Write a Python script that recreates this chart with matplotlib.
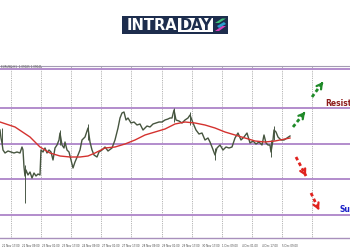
import matplotlib
matplotlib.use("Agg")
import matplotlib.pyplot as plt
from matplotlib.patches import Rectangle, Polygon

# ---- data ----
price_idx = [0,1,2,3,5,8,11,14,17,20,22,23,24,25,26,28,30,32,34,36,38,40,41,43,45,47,49,51,53,55,57,59,60,62,64,65,67,69,71,73,75,78,80,82,85,88,90,92,94,97,99,102,105,108,112,115,118,120,122,124,126,128,131,134,137,140,143,145,147,150,153,156,159,162,165,168,170,172,174,176,179,182,185,188,190,193,196,199,202,205,208,210,212,215,217,220,223,226,229,232,235,238,241,244,247,250,253,256,259,262,264,266,268,270,271,273,274,276,278,281,284,287,290]
price_close = [1.0916,1.0900,1.0890,1.0876,1.0870,1.0874,1.0872,1.0870,1.0872,1.0870,1.0882,1.0876,1.0842,1.0824,1.0836,1.0826,1.0832,1.0820,1.0830,1.0824,1.0828,1.0826,1.0876,1.0872,1.0880,1.0870,1.0876,1.0872,1.0856,1.0880,1.0886,1.0896,1.0910,1.0886,1.0880,1.0892,1.0876,1.0872,1.0856,1.0840,1.0852,1.0866,1.0876,1.0896,1.0902,1.0920,1.0892,1.0876,1.0866,1.0862,1.0872,1.0876,1.0882,1.0874,1.0880,1.0896,1.0920,1.0940,1.0950,1.0952,1.0936,1.0940,1.0930,1.0932,1.0926,1.0928,1.0916,1.0920,1.0924,1.0922,1.0928,1.0930,1.0932,1.0932,1.0936,1.0938,1.0940,1.0940,1.0956,1.0936,1.0934,1.0930,1.0936,1.0940,1.0946,1.0930,1.0916,1.0908,1.0910,1.0896,1.0900,1.0892,1.0882,1.0866,1.0880,1.0886,1.0876,1.0882,1.0880,1.0882,1.0900,1.0910,1.0896,1.0902,1.0910,1.0890,1.0894,1.0888,1.0892,1.0886,1.0906,1.0890,1.0886,1.0886,1.0872,1.0896,1.0916,1.0912,1.0902,1.0896,1.0896,1.0900,1.0904]

wick_idx = [2, 25, 60, 88, 174, 190, 215, 271, 274]
wick_high = [1.0920, 1.0846, 1.0916, 1.0928, 1.0960, 1.0952, 1.0880, 1.0896, 1.0924]
wick_low = [1.0886, 1.0770, 1.0886, 1.0896, 1.0932, 1.0926, 1.0856, 1.0862, 1.0896]

ma_idx = [0,15,30,40,50,60,70,80,88,95,105,115,125,135,145,155,165,175,185,195,205,215,225,235,245,255,265,275,285,290]
ma_val = [1.0932,1.0922,1.0902,1.0882,1.0870,1.0864,1.0862,1.0862,1.0864,1.0870,1.0880,1.0882,1.0888,1.0896,1.0906,1.0912,1.0918,1.0928,1.0932,1.0930,1.0926,1.0920,1.0912,1.0906,1.0900,1.0894,1.0892,1.0894,1.0898,1.0900]

levels = [1.1038, 1.0960, 1.0889, 1.0818, 1.0746]

grid_idx = [11, 41, 71, 101, 131, 162, 192, 222, 252, 282, 312]
tick_idx = [2, 22, 42, 62, 82, 102, 122, 142, 162, 182, 202, 222, 242, 262, 282]
tick_labels = ['21 Nov 17:00','22 Nov 09:00','23 Nov 01:00','23 Nov 17:00','24 Nov 09:00',
               '27 Nov 01:00','27 Nov 17:00','28 Nov 09:00','29 Nov 01:00','29 Nov 17:00',
               '30 Nov 17:00','1 Dec 09:00','4 Dec 01:00','4 Dec 17:00','5 Dec 09:00']

up_arrows = [((293, 1.0922), (305, 1.0952)), ((312, 1.0982), (323, 1.1012))]
down_arrows = [((296, 1.0862), (306, 1.0824)), ((311, 1.0790), (319, 1.0756))]

W, H = 350, 250
fig = plt.figure(figsize=(3.5, 2.5), dpi=100)
fig.patch.set_facecolor('white')

ax = fig.add_axes([0, (H - 238) / H, 1.0, (238 - 66) / H])
ax.set_xlim(0, 350)
ax.set_ylim(1.0700, 1.1044)

for g in grid_idx:
    ax.axvline(g, color='#9a9a9a', lw=0.6, ls=(0, (1, 1.2)), zorder=1)
for lv in levels:
    ax.axhline(lv, color='#b28ccc', lw=1.4, zorder=2)

ax.vlines(wick_idx, wick_low, wick_high, color='#4b5a48', lw=0.7, zorder=3)
ax.plot(price_idx, price_close, color='#46553f', lw=1.0, zorder=4)
ax.plot(ma_idx, ma_val, color='#d4322f', lw=1.0, zorder=5)

def arrow(p0, p1, color):
    ax.plot([p0[0], p1[0]], [p0[1], p1[1]], color=color, lw=2.0, ls=(0, (1.3, 1.0)),
            solid_capstyle='butt', zorder=6)
    ax.annotate('', xy=p1, xytext=(p0[0] + 0.75 * (p1[0] - p0[0]), p0[1] + 0.75 * (p1[1] - p0[1])),
                arrowprops=dict(arrowstyle='->,head_length=0.35,head_width=0.2', color=color, lw=1.6),
                zorder=7)

for a, b in up_arrows:
    arrow(a, b, '#1f8a28')
for a, b in down_arrows:
    arrow(a, b, '#e0231f')

ax.text(325, 1.0970, 'Resistance', color='#8e1c1c', fontsize=5.5, fontweight='bold',
        ha='left', va='center', zorder=8)
ax.text(339, 1.0758, 'Support', color='#1c22c8', fontsize=5.5, fontweight='bold',
        ha='left', va='center', zorder=8)

ax.text(1, 1.1041, 'EURUSD,H1  1.09025 1.09041', fontsize=2.0,
        color='#555555', ha='left', va='center', zorder=8)

for s in ['left', 'right']:
    ax.spines[s].set_visible(False)
ax.spines['top'].set_color('#a49cb4')
ax.spines['top'].set_linewidth(0.8)
ax.spines['bottom'].set_color('#a890bc')
ax.spines['bottom'].set_linewidth(1.0)
ax.set_yticks([])
ax.set_xticks(tick_idx)
ax.set_xticklabels(tick_labels, fontsize=1.9, color='#444444', ha='left')
ax.tick_params(axis='x', length=0, pad=4)

# ---- logo ----
def fx(x):
    return x / W
def fy(y):
    return 1 - y / H

fig.patches.append(Rectangle((fx(122), fy(34)), (228 - 122) / W, (34 - 15.5) / H,
                             transform=fig.transFigure, facecolor='#1d2d4d', edgecolor='none'))
fig.patches.append(Rectangle((fx(178), fy(31.5)), (213 - 178) / W, (31.5 - 18.5) / H,
                             transform=fig.transFigure, facecolor='white', edgecolor='none'))
fig.text(fx(151.5), fy(25), 'INTRA', color='white', fontsize=10.5, fontweight='bold',
         ha='center', va='center')
fig.text(fx(195.5), fy(25), 'DAY', color='#1d2d4d', fontsize=10.5, fontweight='bold',
         ha='center', va='center')
fig.patches.append(Polygon([(fx(215), fy(23)), (fx(222), fy(18.5)), (fx(226), fy(18.5)), (fx(219), fy(23))],
                           closed=True, transform=fig.transFigure, facecolor='#3fc27a', edgecolor='none'))
fig.patches.append(Polygon([(fx(215), fy(31)), (fx(222), fy(26)), (fx(226), fy(26)), (fx(219), fy(31))],
                           closed=True, transform=fig.transFigure, facecolor='#d43fb8', edgecolor='none'))
fig.patches.append(Polygon([(fx(217), fy(26)), (fx(224), fy(22)), (fx(226), fy(24)), (fx(219), fy(28))],
                           closed=True, transform=fig.transFigure, facecolor='#2a9fd0', edgecolor='none'))

fig.savefig('out.png', dpi=100, facecolor='white')
